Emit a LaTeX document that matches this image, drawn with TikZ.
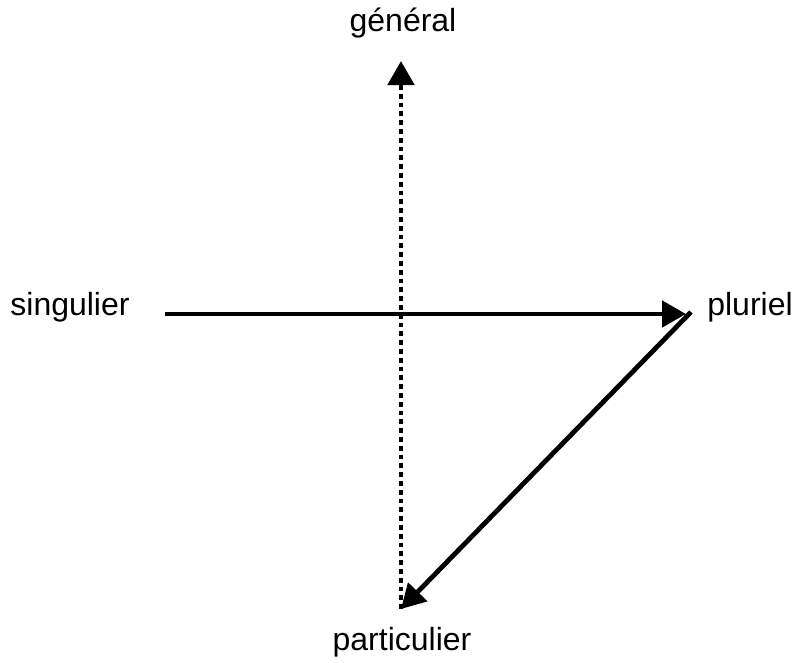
\documentclass[tikz,border=0pt]{standalone}
\usepackage{fontspec}
\setmainfont{Liberation Sans}
\usepackage{tikz}
\usetikzlibrary{arrows.meta, positioning}

\tikzset{
    axe/.style={line width=4.8pt, -{Triangle[length=24pt, width=26pt]}},
    pointille/.style={axe, dash pattern=on 4.8pt off 4pt},
    etiquette/.style={font=\fontsize{32}{38}\selectfont}
}

\begin{document}
\begin{tikzpicture}[x=1pt, y=-1pt]
    \useasboundingbox (0,0) rectangle (796,662);

    % Labels
    \node[etiquette] (general) at (403,23) {général};
    \node[etiquette] (singulier) at (70,307) {singulier};
    \node[etiquette] (pluriel) at (750,307) {pluriel};
    \node[etiquette] (particulier) at (402,642) {particulier};

    % Ends of the arrows
    \coordinate (haut) at (401,61);
    \coordinate (bas) at (401,609);
    \coordinate (gauche) at (165,314);
    \coordinate (droite) at (686,314);
    \coordinate (coin) at (691,312);

    % Axes
    \draw[pointille] (bas) -- (haut);
    \draw[axe] (gauche) -- (droite);
    \draw[axe] (coin) -- (bas);
\end{tikzpicture}
\end{document}
